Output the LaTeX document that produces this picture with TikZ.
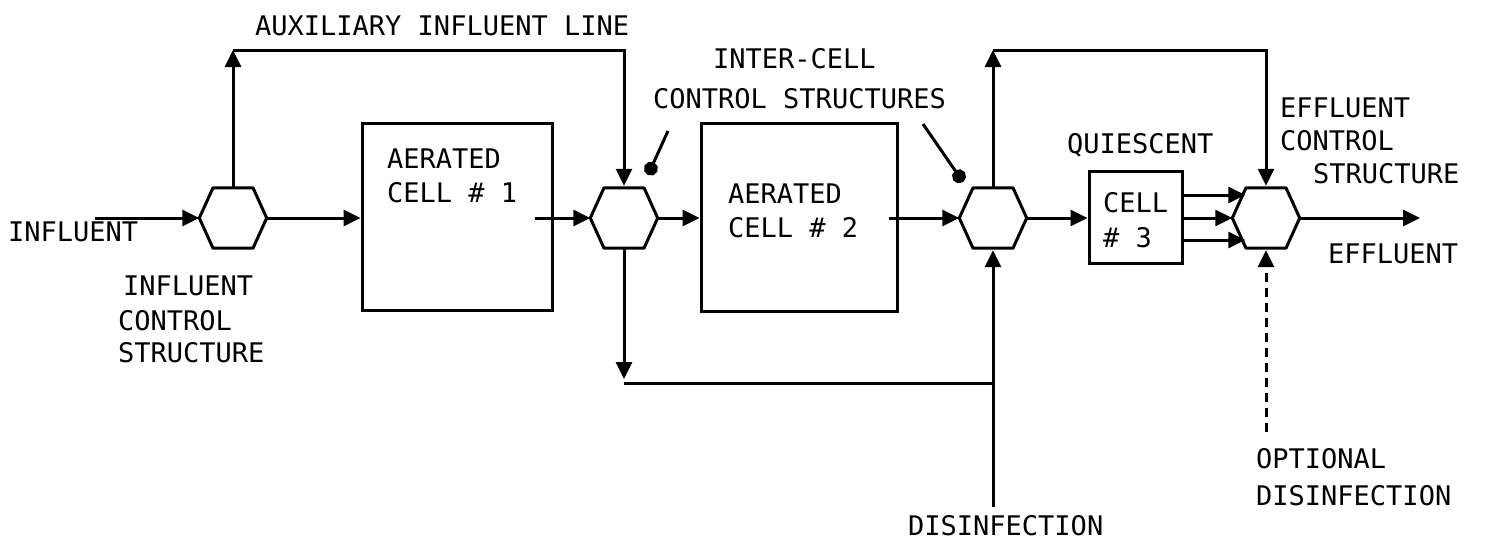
\documentclass[tikz,border=0pt]{standalone}
\usepackage{fontspec}
\setmonofont{DejaVu Sans Mono}
\usetikzlibrary{arrows.meta,calc}
\tikzset{
  ln/.style={line width=3pt},
  arr/.style={ln,-{Triangle[length=17pt,width=16pt]}},
  box/.style={draw,line width=3pt,inner sep=0pt,rectangle},
  hexn/.style={inner sep=0pt,minimum width=67pt,minimum height=60pt},
  hexline/.style={line width=3pt,line join=round},
  lbl/.style={inner sep=0pt,anchor=base west,font=\ttfamily\fontsize{27}{27}\selectfont},
  ptr/.style={ln,-{Circle[length=14pt]}},
  dsh/.style={arr,dash pattern=on 9pt off 6pt}
}
\newcommand\hexdraw[1]{\draw[hexline] (#1.west) -- ([xshift=-20pt]#1.north) -- ([xshift=20pt]#1.north) -- (#1.east) -- ([xshift=20pt]#1.south) -- ([xshift=-20pt]#1.south) -- cycle;}
\begin{document}
\begin{tikzpicture}[x=1pt,y=-1pt]
\useasboundingbox (0,0) rectangle (1489,539);
% hexagon control structures
\node[hexn] (h1) at (233,218) {};
\node[hexn] (h2) at (624,218) {};
\node[hexn] (h3) at (993,218) {};
\node[hexn] (h4) at (1266,218) {};
\hexdraw{h1}\hexdraw{h2}\hexdraw{h3}\hexdraw{h4}
% cells
\node[box,minimum width=190pt,minimum height=187pt] (b1) at (457,216.5) {};
\node[box,minimum width=196pt,minimum height=188pt] (b2) at (799,217) {};
\node[box,minimum width=93pt,minimum height=92pt] (b3) at (1135.5,217) {};
% free ends
\coordinate (inl) at (95,218);
\coordinate (effo) at (1420,218);
\coordinate (topA) at (0,50);
\coordinate (byp) at (993,383);
\coordinate (dis) at (993,507);
\coordinate (odis) at (1266,432);
\coordinate (p1s) at (668,131);
\coordinate (p1e) at (648,175);
\coordinate (p2s) at (923,124);
\coordinate (p2e) at (963,182);
% main flow
\draw[arr] (inl) -- (h1.west);
\draw[arr] (h1.east) -- (h1.east -| b1.west);
\draw[arr] ([xshift=-19pt]b1.east |- h2.west) -- (h2.west);
\draw[arr] (h2.east) -- (h2.east -| b2.west);
\draw[arr] ([xshift=-10pt]b2.east |- h3.west) -- (h3.west);
\draw[arr] (h3.east) -- (h3.east -| b3.west);
\draw[arr] ($(b3.east |- h4.west)+(0,-23)$) -- ($(h4.west)+(13,-23)$);
\draw[arr] (b3.east |- h4.west) -- (h4.west);
\draw[arr] ($(b3.east |- h4.west)+(0,22)$) -- ($(h4.west)+(13,22)$);
\draw[arr] (h4.east) -- (effo);
% auxiliary influent line
\draw[arr] (h1.north) -- (h1.north |- topA);
\draw[arr,shorten >=2pt] (h1.north |- topA) -- (h2.north |- topA) -- (h2.north);
% effluent bypass loop
\draw[arr] (h3.north) -- (h3.north |- topA);
\draw[arr,shorten >=2pt] (h3.north |- topA) -- (h4.north |- topA) -- (h4.north);
% lower bypass and disinfection
\draw[arr,shorten >=4pt] (h2.south) -- (h2.south |- byp);
\draw[ln] (h2.south |- byp) -- (byp);
\draw[arr,shorten >=2pt] (dis) -- (h3.south);
\draw[dsh,shorten >=2pt] (odis) -- (h4.south);
% pointers
\draw[ptr] (p1s) -- (p1e);
\draw[ptr] (p2s) -- (p2e);
% labels
\node[lbl] (tAux) at (255,35) {AUXILIARY INFLUENT LINE};
\node[lbl] (tInf) at (8,241) {INFLUENT};
\node[lbl] (tIc1) at (123,295) {INFLUENT};
\node[lbl] (tIc2) at (118,330) {CONTROL};
\node[lbl] (tIc3) at (118,362) {STRUCTURE};
\node[lbl] (tB1a) at (387,168) {AERATED};
\node[lbl] (tB1b) at (387,202) {CELL \# 1};
\node[lbl] (tIcc1) at (713,68) {INTER-CELL};
\node[lbl] (tIcc2) at (653,108) {CONTROL STRUCTURES};
\node[lbl] (tB2a) at (728,203) {AERATED};
\node[lbl] (tB2b) at (728,237) {CELL \# 2};
\node[lbl] (tQ) at (1067,153) {QUIESCENT};
\node[lbl] (tB3a) at (1103,212) {CELL};
\node[lbl] (tB3b) at (1103,247) {\# 3};
\node[lbl] (tEc1) at (1280,117) {EFFLUENT};
\node[lbl] (tEc2) at (1280,150) {CONTROL};
\node[lbl] (tEc3) at (1313,183) {STRUCTURE};
\node[lbl] (tEff) at (1328,263) {EFFLUENT};
\node[lbl] (tOd1) at (1256,468) {OPTIONAL};
\node[lbl] (tOd2) at (1256,505) {DISINFECTION};
\node[lbl] (tDis) at (908,535) {DISINFECTION};
\end{tikzpicture}
\end{document}
